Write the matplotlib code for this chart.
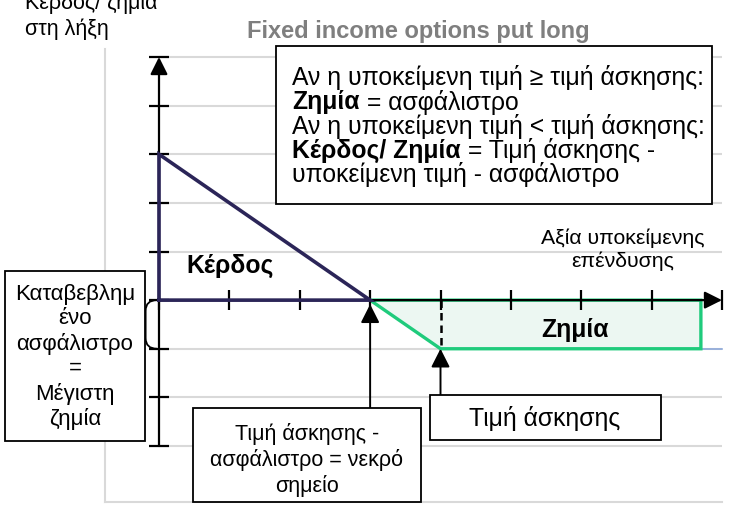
import matplotlib
matplotlib.use("Agg")
import matplotlib.pyplot as plt
from matplotlib.patches import Rectangle, PathPatch
from matplotlib.path import Path
from matplotlib.lines import Line2D

plt.rcParams['font.family'] = ['Liberation Sans', 'DejaVu Sans']

# ---- data ----
x_ticks = [0, 1, 2, 3, 4, 5, 6, 7, 8]
y_ticks = [-3, -2, -1, 0, 1, 2, 3, 4, 5]
profit_x = [0, 0, 3, 0]
profit_y = [0, 3, 0, 0]
loss_x = [3, 4, 7.7, 7.7, 3]
loss_y = [0, -1, -1, 0, 0]
tail_x = [7.7, 8]
tail_y = [-1, -1]
breakeven = 3
strike = 4
premium = 1

title = "Fixed income options put long"
ylabel = "Κέρδος/ ζημία\nστη λήξη"
xlabel = "Αξία υποκείμενης\nεπένδυσης"

W, H = 736, 506
fig = plt.figure(figsize=(W / 100, H / 100), dpi=100)
ax = fig.add_axes([0, 0, 1, 1])
ax.axis('off')
# pixel mapping: x=0 -> 159px, x=8 -> 722px ; y=5 -> 58px, y=-3 -> 447px
sx = (722 - 159) / 8.0
sy = (447 - 58) / 8.0
y0px = 447 - 3 * sy
ax.set_xlim(-159 / sx, (W - 159) / sx)
ax.set_ylim(-(H - y0px) / sy, y0px / sy)

def fx(px):
    return px / W

def fy(py):
    return 1 - py / H

def Y(py):
    return (y0px - py) / sy

FS = 17.8
navy = '#2b2558'
green = '#1fcb7c'
mint = '#ecf7f2'
grid = '#d9d9d9'

# outer plot-area lines
ax.add_line(Line2D([fx(105), fx(105)], [fy(50), fy(503)], transform=fig.transFigure,
                   color=grid, lw=1.5, zorder=0))
ax.add_line(Line2D([fx(105), fx(722)], [fy(503), fy(503)], transform=fig.transFigure,
                   color=grid, lw=1.5, zorder=0))

# gridlines
ax.hlines(y_ticks, x_ticks[0], x_ticks[-1], color=grid, lw=1.5, zorder=1)

# loss polygon
ax.fill(loss_x, loss_y, facecolor=mint, edgecolor=green, lw=2.4, zorder=3,
        joinstyle='miter')
ax.plot(tail_x, tail_y, color='#8eaadb', lw=1.2, zorder=2)

# axes with arrows
arr = dict(arrowstyle='-|>,head_length=0.7,head_width=0.35', color='black', lw=1.6,
           shrinkA=0, shrinkB=0, mutation_scale=15)
ax.annotate('', xy=(x_ticks[-1], 0), xytext=(x_ticks[0], 0), arrowprops=arr, zorder=5)
ax.annotate('', xy=(0, y_ticks[-1]), xytext=(0, y_ticks[0]), arrowprops=arr, zorder=5)
ax.plot(x_ticks, [0] * len(x_ticks), ls='none', marker='|', ms=15, mew=1.6,
        color='black', zorder=5)
ax.plot([0] * len(y_ticks), y_ticks, ls='none', marker='_', ms=15, mew=1.6,
        color='black', zorder=5)

# profit triangle
ax.plot(profit_x, profit_y, color=navy, lw=2.6, zorder=6, solid_joinstyle='miter')

# dashed strike line
ax.plot([strike, strike], [0, -premium], color='black', lw=1.8, ls=(0, (3, 2)), zorder=6)

# premium bracket
bx0, bx1 = -0.03, -0.19
verts = [(bx0, 0), (bx1, 0), (bx1, -0.22), (bx1, -premium + 0.22), (bx1, -premium),
         (bx0, -premium)]
codes = [Path.MOVETO, Path.CURVE3, Path.CURVE3, Path.LINETO, Path.CURVE3, Path.CURVE3]
ax.add_patch(PathPatch(Path(verts, codes), fill=False, lw=1.3, color='black', zorder=6))

# arrows from boxes
arr2 = dict(arrowstyle='-|>,head_length=0.75,head_width=0.38', color='black', lw=1.4,
            shrinkA=0, shrinkB=3, mutation_scale=15)
ax.annotate('', xy=(breakeven, 0), xytext=(breakeven, Y(409)), arrowprops=arr2, zorder=7)
arr3 = dict(arr2, shrinkB=0)
ax.annotate('', xy=(strike, -premium), xytext=(strike, Y(396)), arrowprops=arr3, zorder=7)

# boxes
def box(x0, y0, x1, y1):
    ax.add_patch(Rectangle((fx(x0), fy(y1)), (x1 - x0) / W, (y1 - y0) / H,
                           transform=fig.transFigure, facecolor='white',
                           edgecolor='black', lw=1.3, zorder=8, clip_on=False))

def ftext(x, y, s, **kw):
    kw.setdefault('fontsize', FS)
    kw.setdefault('ha', 'center')
    kw.setdefault('va', 'center')
    return ax.text(fx(x), fy(y), s, transform=fig.transFigure, zorder=9, **kw)

box(276, 47, 712, 205)
lines_top = [("", "Αν η υποκείμενη τιμή ≥ τιμή άσκησης:"),
             ("Ζημία", " = ασφάλιστρο"),
             ("", "Αν η υποκείμενη τιμή < τιμή άσκησης:"),
             ("Κέρδος/ Ζημία", " = Τιμή άσκησης -"),
             ("", "υποκείμενη τιμή - ασφάλιστρο")]
for i, (b, r) in enumerate(lines_top):
    yy = 78 + 24.2 * i
    if b:
        t = ftext(292, yy, b, ha='left', fontweight='bold')
        ax.annotate(r, xy=(1, 0.5), xycoords=t, ha='left', va='center',
                    fontsize=FS, zorder=9)
    else:
        ftext(292, yy, r, ha='left')

box(5, 272, 145, 442)
ftext(75, 357, "Καταβεβλημ\nένο\nασφάλιστρο\n=\nΜέγιστη\nζημία", fontsize=16,
      linespacing=1.21)

box(193, 409, 421, 503)
ftext(307, 460, "Τιμή άσκησης -\nασφάλιστρο = νεκρό\nσημείο", fontsize=15.5,
      linespacing=1.22)

box(430, 396, 661, 441)
ftext(545, 419, "Τιμή άσκησης")

# labels
ftext(418, 38, title, va='baseline', fontsize=17, fontweight='bold', color='#7f7f7f')
ftext(25, 35, ylabel, ha='left', va='baseline', fontsize=15.5, linespacing=1.3)
ftext(623, 250, xlabel, fontsize=15.3, linespacing=1.2)
ftext(230, 266, "Κέρδος", fontweight='bold')
ftext(575, 330, "Ζημία", fontweight='bold')

fig.savefig('out.png', dpi=100)
